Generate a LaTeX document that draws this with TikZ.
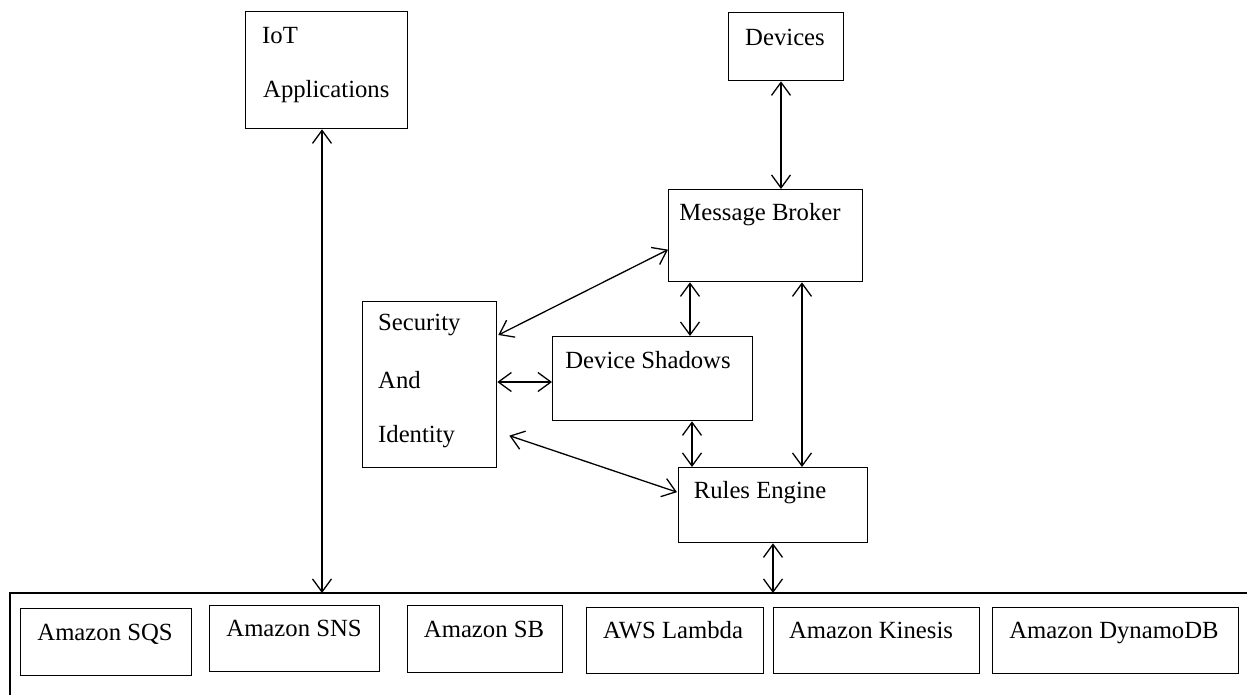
\documentclass[tikz,border=0pt]{standalone}
\usepackage{fontspec}
\setmainfont{Liberation Serif}
\usetikzlibrary{arrows.meta,calc}
\tikzset{
  box/.style={draw, line width=1.3pt, inner sep=0pt, anchor=north west},
  lbl/.style={font=\fontsize{24.7}{30}\selectfont, inner sep=0pt, anchor=base},
  lblw/.style={lbl, anchor=base west},
  arr/.style={{Straight Barb[length=13pt,width=19pt]}-{Straight Barb[length=13pt,width=19pt]}, line width=1.3pt},
  frame/.style={line width=1.3pt}
}
\begin{document}
\begin{tikzpicture}[x=1pt,y=-1pt]
\useasboundingbox (0,0) rectangle (1247,694);

% top boxes
\node[box, minimum width=162pt, minimum height=117pt] (iot) at (245,11) {};
\node[lblw] (iotA) at (262,43) {IoT};
\node[lblw] (iotB) at (263,97) {Applications};

\node[box, minimum width=115pt, minimum height=68pt] (dev) at (728,12) {};
\node[lbl] (devT) at (785,45) {Devices};

\node[box, minimum width=194pt, minimum height=92pt] (mb) at (668,189) {};
\node[lbl] (mbT) at (760,220) {Message Broker};

\node[box, minimum width=134pt, minimum height=166pt] (sec) at (362,301) {};
\node[lblw] (secA) at (378,330) {Security};
\node[lblw] (secB) at (378,388) {And};
\node[lblw] (secC) at (378,442) {Identity};

\node[box, minimum width=200pt, minimum height=84pt] (ds) at (552,336) {};
\node[lbl] (dsT) at (648,368) {Device Shadows};

\node[box, minimum width=189pt, minimum height=75pt] (re) at (678,467) {};
\node[lbl] (reT) at (760,498) {Rules Engine};

% bottom frame (open to the right and bottom)
\draw[frame] (1250,593) -- (10,593) -- (10,700);
\coordinate (bt1) at (322,593);
\coordinate (bt2) at (773,593);

\node[box, minimum width=171pt, minimum height=67pt] (sqs) at (20,608) {};
\node[lbl] (sqsT) at (105,640) {Amazon SQS};
\node[box, minimum width=170pt, minimum height=66pt] (sns) at (209,605) {};
\node[lbl] (snsT) at (294,636) {Amazon SNS};
\node[box, minimum width=155pt, minimum height=67pt] (sb) at (407,605) {};
\node[lbl] (sbT) at (484,637) {Amazon SB};
\node[box, minimum width=177pt, minimum height=66pt] (lam) at (586,607) {};
\node[lbl] (lamT) at (673,638) {AWS Lambda};
\node[box, minimum width=206pt, minimum height=66pt] (kin) at (773,607) {};
\node[lbl] (kinT) at (871,638) {Amazon Kinesis};
\node[box, minimum width=246pt, minimum height=66pt] (ddb) at (992,607) {};
\node[lbl] (ddbT) at (1114,638) {Amazon DynamoDB};

% connectors
\draw[arr] (iot.south -| bt1) -- (bt1);
\draw[arr] (dev.south -| 781,0) -- (mb.north -| 781,0);
\draw[arr] ($(mb.west)+(0,14)$) -- ($(sec.north east)+(1,34)$);
\draw[arr] (mb.south -| 690,0) -- (ds.north -| 690,0);
\draw[arr] (mb.south -| 802,0) -- (re.north -| 802,0);
\draw[arr] (sec.east |- 0,382) -- (ds.west |- 0,382);
\draw[arr] (ds.south -| 692,0) -- (re.north -| 692,0);
\draw[arr] ($(sec.east)+(12,51)$) -- ($(re.west)+(-1,-13)$);
\draw[arr] (re.south -| bt2) -- (bt2);
\end{tikzpicture}
\end{document}
